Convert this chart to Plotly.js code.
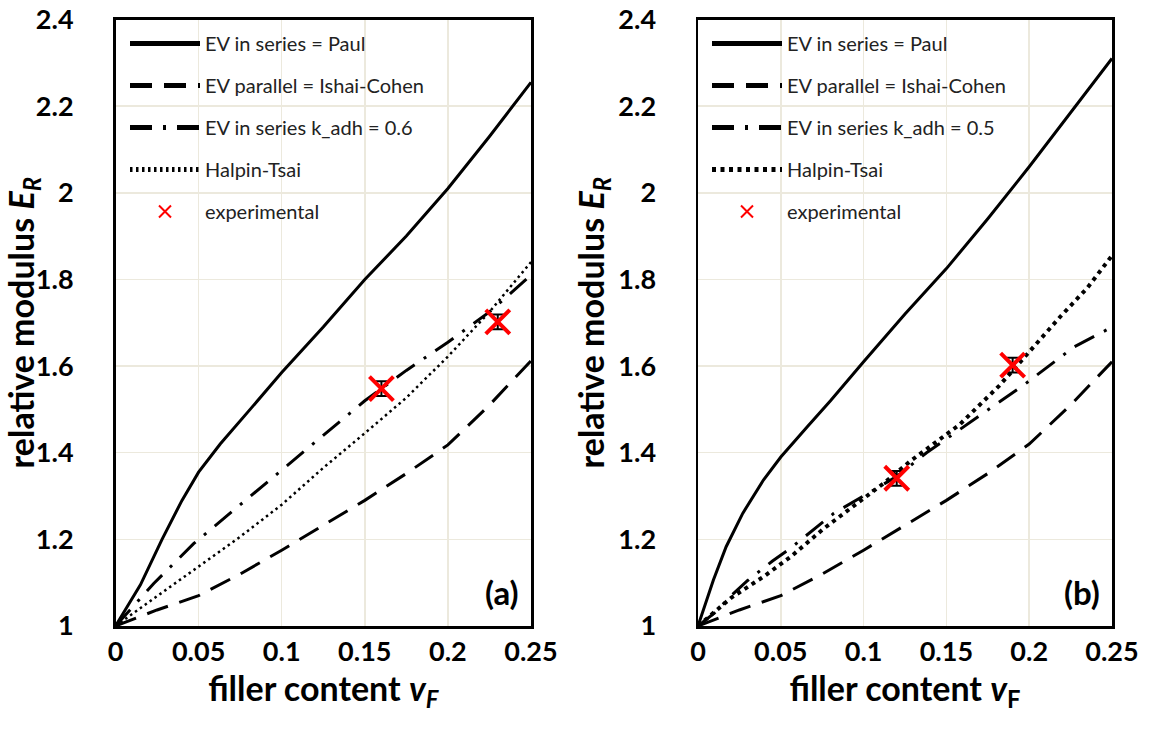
<!DOCTYPE html>
<html>
<head>
<meta charset="utf-8">
<script src="https://cdn.plot.ly/plotly-3.0.1.min.js"></script>
<style>html,body{margin:0;padding:0;background:#fff;}#chart{width:1158px;height:729px;}</style>
</head>
<body>
<div id="chart"></div>
<script>
// ---------- data (panel a) ----------
const paulA_x = [0, 0.007, 0.015, 0.028, 0.04, 0.05, 0.063, 0.081, 0.1, 0.125, 0.15, 0.175, 0.2, 0.225, 0.25];
const paulA_y = [1, 1.045, 1.095, 1.2, 1.29, 1.355, 1.42, 1.50, 1.585, 1.69, 1.80, 1.90, 2.01, 2.13, 2.255];
const icA_x = [0, 0.025, 0.05, 0.075, 0.1, 0.125, 0.15, 0.175, 0.2, 0.225, 0.25];
const icA_y = [1, 1.037, 1.07, 1.12, 1.175, 1.232, 1.29, 1.352, 1.418, 1.51, 1.612];
const kadhA_x = [0, 0.012, 0.023, 0.047, 0.075, 0.1, 0.125, 0.15, 0.175, 0.2, 0.225, 0.25];
const kadhA_y = [1, 1.05, 1.098, 1.19, 1.279, 1.36, 1.44, 1.52, 1.59, 1.655, 1.725, 1.81];
const htA_x = [0, 0.025, 0.05, 0.075, 0.1, 0.125, 0.15, 0.175, 0.2, 0.225, 0.25];
const htA_y = [1, 1.068, 1.136, 1.206, 1.28, 1.365, 1.445, 1.527, 1.622, 1.725, 1.84];
const expA_x = [0.16, 0.23];
const expA_y = [1.548, 1.702];
const expA_err = [0.017, 0.017];

// ---------- data (panel b) ----------
const paulB_x = [0, 0.0093, 0.017, 0.027, 0.0395, 0.05, 0.066, 0.08, 0.1, 0.125, 0.15, 0.175, 0.2, 0.225, 0.25];
const paulB_y = [1, 1.106, 1.183, 1.26, 1.337, 1.39, 1.46, 1.52, 1.61, 1.72, 1.825, 1.94, 2.06, 2.185, 2.31];
const icB_x = [0, 0.025, 0.05, 0.075, 0.1, 0.125, 0.15, 0.175, 0.2, 0.225, 0.25];
const icB_y = [1, 1.037, 1.07, 1.12, 1.175, 1.232, 1.29, 1.352, 1.42, 1.51, 1.61];
const kadhB_x = [0, 0.01, 0.02, 0.03, 0.045, 0.056, 0.082, 0.1, 0.12, 0.138, 0.155, 0.172, 0.198, 0.227, 0.25];
const kadhB_y = [1, 1.03, 1.07, 1.105, 1.15, 1.18, 1.26, 1.30, 1.345, 1.40, 1.445, 1.49, 1.56, 1.644, 1.69];
const htB_x = [0, 0.02, 0.04, 0.056, 0.076, 0.096, 0.112, 0.128, 0.158, 0.182, 0.198, 0.219, 0.235, 0.25];
const htB_y = [1, 1.065, 1.115, 1.16, 1.225, 1.283, 1.329, 1.38, 1.465, 1.555, 1.625, 1.715, 1.78, 1.855];
const expB_x = [0.12, 0.19];
const expB_y = [1.341, 1.602];
const expB_err = [0.017, 0.017];

// ---------- labels ----------
const legendNames = ['EV in series = Paul', 'EV parallel = Ishai-Cohen', 'EV in series k_adh = 0.6', 'Halpin-Tsai', 'experimental'];
const legendNamesB = ['EV in series = Paul', 'EV parallel = Ishai-Cohen', 'EV in series k_adh = 0.5', 'Halpin-Tsai', 'experimental'];
const xTickVals = [0, 0.05, 0.1, 0.15, 0.2, 0.25];
const xTickText = ['0', '0.05', '0.1', '0.15', '0.2', '0.25'];
const yTickVals = [1, 1.2, 1.4, 1.6, 1.8, 2, 2.2, 2.4];
const yTickText = ['1', '1.2', '1.4', '1.6', '1.8', '2', '2.2', '2.4'];
const panelLabels = ['(a)', '(b)'];

// ---------- styles ----------
const LW = 3;
const dashLong = '22px,12px';
const dashDot = '22px,11px,3px,11px';

function panel(xa, ya, leg, d, names, dotW, dotDash) {
  return [
    {x: d.paul[0], y: d.paul[1], mode: 'lines', name: names[0], xaxis: xa, yaxis: ya, legend: leg, legendgroup: leg + 'g1',
     line: {color: '#000', width: LW}},
    {x: d.ic[0], y: d.ic[1], mode: 'lines', name: names[1], xaxis: xa, yaxis: ya, legend: leg, legendgroup: leg + 'g2',
     line: {color: '#000', width: LW, dash: dashLong}},
    {x: d.k[0], y: d.k[1], mode: 'lines', name: names[2], xaxis: xa, yaxis: ya, legend: leg, legendgroup: leg + 'g3',
     line: {color: '#000', width: LW, dash: dashDot}},
    {x: d.ht[0], y: d.ht[1], mode: 'lines', name: names[3], xaxis: xa, yaxis: ya, legend: leg, legendgroup: leg + 'g4',
     line: {color: '#000', width: dotW, dash: dotDash}},
    {x: d.exp[0], y: d.exp[1], mode: 'markers', name: names[4], xaxis: xa, yaxis: ya, legend: leg, legendgroup: leg + 'g5',
     error_y: {type: 'data', array: d.exp[2], visible: true, color: '#000', thickness: 2, width: 6},
     marker: {symbol: 'x-thin', size: 24, color: '#FF0000', line: {color: '#FF0000', width: 4}}}
  ];
}

const data = [].concat(
  panel('x', 'y', 'legend',
    {paul: [paulA_x, paulA_y], ic: [icA_x, icA_y], k: [kadhA_x, kadhA_y], ht: [htA_x, htA_y], exp: [expA_x, expA_y, expA_err]},
    legendNames, 2.5, '2.5px,3.5px'),
  panel('x2', 'y2', 'legend2',
    {paul: [paulB_x, paulB_y], ic: [icB_x, icB_y], k: [kadhB_x, kadhB_y], ht: [htB_x, htB_y], exp: [expB_x, expB_y, expB_err]},
    legendNamesB, 4, '4px,4.5px')
);

const W = 1158, H = 729;
const FAM = 'Lato, "Open Sans", sans-serif';
const tickFont = {family: FAM, size: 27, color: '#000', weight: 'bold'};
const titleFont = {family: FAM, size: 34, color: '#000', weight: 'bold'};
const gridColor = '#ECE9DD';

function xAxis(dom, anchor, title) {
  return {domain: dom, anchor: anchor, range: [0, 0.25], tickmode: 'array', tickvals: xTickVals, ticktext: xTickText,
    showgrid: true, gridcolor: gridColor, gridwidth: 1.5, zeroline: false, showline: true, mirror: true,
    linecolor: '#000', linewidth: 2.5, ticks: '', ticklen: 0, tickfont: tickFont, ticklabelstandoff: 0,
    title: {text: title, font: titleFont, standoff: 6}, fixedrange: true};
}
function yAxis(dom, anchor) {
  return {domain: dom, anchor: anchor, range: [1, 2.4], tickmode: 'array', tickvals: yTickVals, ticktext: yTickText,
    showgrid: true, gridcolor: gridColor, gridwidth: 1.5, zeroline: false, showline: true, mirror: true,
    linecolor: '#000', linewidth: 2.5, ticks: '', tickfont: tickFont, ticklabelstandoff: 34,
    title: {text: 'relative modulus <i>E</i><sub><i>R</i></sub>', font: titleFont, standoff: 4}, fixedrange: true};
}

const yDom = [(H - 626) / H, (H - 19.5) / H];
const legendCommon = {
  bgcolor: 'rgba(255,255,255,0)', borderwidth: 0, traceorder: 'grouped', tracegroupgap: 13,
  font: {family: FAM, size: 20, color: '#222'},
  itemsizing: 'constant', itemwidth: 70, xanchor: 'left', yanchor: 'top'
};

const layout = {
  width: W, height: H,
  margin: {l: 0, r: 0, t: 0, b: 0},
  paper_bgcolor: '#fff', plot_bgcolor: '#fff',
  showlegend: true,
  xaxis: xAxis([115.5 / W, 531 / W], 'y', 'filler content <i>v</i><sub><i>F</i></sub>'),
  yaxis: yAxis(yDom, 'x'),
  xaxis2: xAxis([698 / W, 1112 / W], 'y2', 'filler content <i>v</i><sub>F</sub>'),
  yaxis2: yAxis(yDom, 'x2'),
  legend: Object.assign({}, legendCommon, {x: 125 / W, y: (H - 24) / H}),
  legend2: Object.assign({}, legendCommon, {x: 707 / W, y: (H - 24) / H}),
  annotations: [
    {text: panelLabels[0], xref: 'x domain', yref: 'y domain', x: 0.975, y: 0.02, xanchor: 'right', yanchor: 'bottom',
     showarrow: false, font: {family: FAM, size: 33, color: '#000', weight: 'bold'}},
    {text: panelLabels[1], xref: 'x2 domain', yref: 'y2 domain', x: 0.975, y: 0.02, xanchor: 'right', yanchor: 'bottom',
     showarrow: false, font: {family: FAM, size: 33, color: '#000', weight: 'bold'}}
  ]
};

Plotly.newPlot('chart', data, layout, {displayModeBar: false, staticPlot: true});
</script>
</body>
</html>
